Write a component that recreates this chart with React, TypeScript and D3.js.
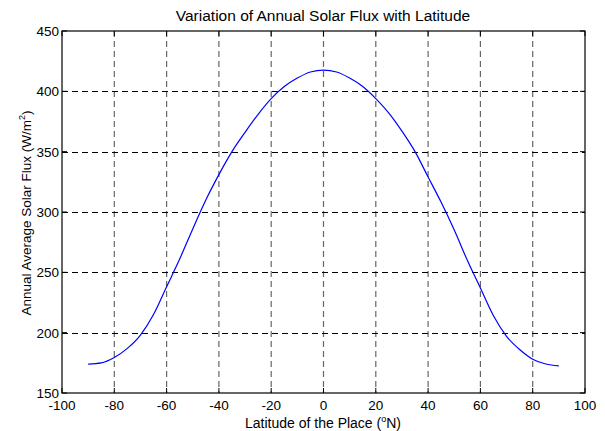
import React, { useEffect, useRef } from 'react';
import * as d3 from 'd3';

const latitudes = [-90, -85, -80, -75, -70, -65, -60, -55, -50, -45, -40, -35, -30, -25, -20, -15, -10, -5, 0,
  5, 10, 15, 20, 25, 30, 35, 40, 45, 50, 55, 60, 65, 70, 75, 80, 85, 90];
const flux = [174, 175, 179.5, 187, 198, 215, 238, 261, 286, 310, 331, 350, 366, 381, 394, 404, 411, 416, 417.5,
  416, 411, 404, 394, 382, 367, 350, 329, 308, 285, 260, 237, 214, 197, 186, 178, 174, 172.5];
const xTicks = [-100, -80, -60, -40, -20, 0, 20, 40, 60, 80, 100];
const yTicks = [150, 200, 250, 300, 350, 400, 450];

const App = () => {
  const ref = useRef<SVGSVGElement>(null);

  useEffect(() => {
    const width = 605;
    const height = 431;
    const m = { left: 62, right: 20, top: 31, bottom: 38 };
    const font = 'Arial, "Liberation Sans", Helvetica, sans-serif';

    const svg = d3.select(ref.current);
    svg.selectAll('*').remove();

    const x = d3.scaleLinear().domain([-100, 100]).range([m.left, width - m.right]);
    const y = d3.scaleLinear().domain([150, 450]).range([height - m.bottom, m.top]);

    svg.append('rect').attr('width', width).attr('height', height).attr('fill', '#fff');

    // grid
    const grid = svg.append('g');
    grid.selectAll('.vg')
      .data(xTicks.slice(1, -1))
      .join('line')
      .attr('x1', d => x(d)).attr('x2', d => x(d))
      .attr('y1', y(450)).attr('y2', y(150))
      .attr('stroke', '#666').attr('stroke-width', 1.2)
      .attr('stroke-dasharray', '6,4');
    grid.selectAll('.hg')
      .data(yTicks.slice(1, -1))
      .join('line')
      .attr('x1', x(-100)).attr('x2', x(100))
      .attr('y1', d => Math.round(y(d)) + 0.5).attr('y2', d => Math.round(y(d)) + 0.5)
      .attr('stroke', '#000').attr('stroke-width', 1)
      .attr('stroke-dasharray', '6,4');

    // curve
    const line = d3.line<number>()
      .x((d, i) => x(latitudes[i]))
      .y(d => y(d))
      .curve(d3.curveMonotoneX);
    svg.append('path')
      .datum(flux)
      .attr('d', line)
      .attr('fill', 'none')
      .attr('stroke', '#0000ff')
      .attr('stroke-width', 1.2);

    // box
    svg.append('rect')
      .attr('x', x(-100)).attr('y', y(450))
      .attr('width', x(100) - x(-100)).attr('height', y(150) - y(450))
      .attr('fill', 'none').attr('stroke', '#000').attr('stroke-width', 1.2);

    // ticks (inward, MATLAB style)
    const tk = svg.append('g').attr('stroke', '#000').attr('stroke-width', 1);
    xTicks.forEach(t => {
      tk.append('line').attr('x1', x(t)).attr('x2', x(t)).attr('y1', y(150)).attr('y2', y(150) - 5);
      tk.append('line').attr('x1', x(t)).attr('x2', x(t)).attr('y1', y(450)).attr('y2', y(450) + 5);
    });
    yTicks.forEach(t => {
      tk.append('line').attr('x1', x(-100)).attr('x2', x(-100) + 5).attr('y1', y(t)).attr('y2', y(t));
      tk.append('line').attr('x1', x(100)).attr('x2', x(100) - 5).attr('y1', y(t)).attr('y2', y(t));
    });

    // tick labels
    svg.append('g').selectAll('text')
      .data(xTicks)
      .join('text')
      .attr('x', d => x(d))
      .attr('y', y(150) + 17)
      .attr('text-anchor', 'middle')
      .attr('font-family', font).attr('font-size', 13.5)
      .text(d => d);
    svg.append('g').selectAll('text')
      .data(yTicks)
      .join('text')
      .attr('x', x(-100) - 3)
      .attr('y', d => y(d) + 5)
      .attr('text-anchor', 'end')
      .attr('font-family', font).attr('font-size', 13.5)
      .text(d => d);

    // title
    svg.append('text')
      .attr('x', 323).attr('y', 20.5)
      .attr('text-anchor', 'middle')
      .attr('font-family', font).attr('font-size', 15.5)
      .text('Variation of Annual Solar Flux with Latitude');

    // x label
    const xl = svg.append('text')
      .attr('x', 323).attr('y', 428)
      .attr('text-anchor', 'middle')
      .attr('font-family', font).attr('font-size', 14);
    xl.append('tspan').text('Latitude of the Place (');
    xl.append('tspan').attr('font-size', 9).attr('dy', -6).text('o');
    xl.append('tspan').attr('dy', 6).text('N)');

    // y label
    const yl = svg.append('text')
      .attr('transform', `translate(31,213) rotate(-90)`)
      .attr('text-anchor', 'middle')
      .attr('font-family', font).attr('font-size', 13.5);
    yl.append('tspan').text('Annual Average Solar Flux (W/m');
    yl.append('tspan').attr('font-size', 9).attr('dy', -6).text('2');
    yl.append('tspan').attr('dy', 6).text(')');
  }, []);

  return <svg ref={ref} width={605} height={431} style={{ position: 'absolute', left: 0, top: 0 }} />;
};

export default App;
